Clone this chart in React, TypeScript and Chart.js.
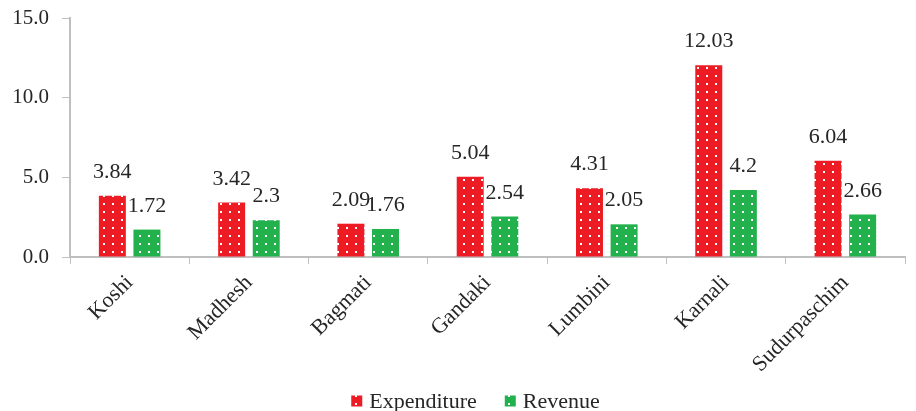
import React, { useEffect, useRef } from "react";
import { Chart, registerables } from "chart.js";

Chart.register(...registerables);

const categories = ["Koshi", "Madhesh", "Bagmati", "Gandaki", "Lumbini", "Karnali", "Sudurpaschim"];
const seriesNames = ["Expenditure", "Revenue"];
const expenditure = [3.84, 3.42, 2.09, 5.04, 4.31, 12.03, 6.04];
const revenue = [1.72, 2.3, 1.76, 2.54, 2.05, 4.2, 2.66];
const yTicks = [0, 5, 10, 15];

const FONT = "'Liberation Serif', 'Times New Roman', serif";
const TEXT = "#262626";

function makePattern(color: string): CanvasPattern | string {
  const c = document.createElement("canvas");
  c.width = 9;
  c.height = 8;
  const ctx = c.getContext("2d");
  if (!ctx) return color;
  ctx.fillStyle = color;
  ctx.fillRect(0, 0, 9, 8);
  ctx.fillStyle = "#ffffff";
  ctx.fillRect(4, 3, 2, 2);
  const p = ctx.createPattern(c, "repeat");
  return p || color;
}

const labelPlugin = {
  id: "valueLabels",
  afterDatasetsDraw(chart: any) {
    const ctx = chart.ctx;
    ctx.save();
    ctx.font = `22px ${FONT}`;
    ctx.fillStyle = TEXT;
    ctx.textAlign = "center";
    ctx.textBaseline = "alphabetic";
    chart.data.datasets.forEach((ds: any, i: number) => {
      const meta = chart.getDatasetMeta(i);
      meta.data.forEach((bar: any, j: number) => {
        ctx.fillText(String(ds.data[j]), bar.x, bar.y - 18);
      });
    });
    ctx.restore();
  },
};

const legendPlugin = {
  id: "customLegend",
  afterDraw(chart: any) {
    const ctx = chart.ctx;
    ctx.save();
    ctx.font = `22px ${FONT}`;
    ctx.textBaseline = "middle";
    ctx.textAlign = "left";
    const box = 11;
    const gap = 7;
    const itemGap = 28;
    const ds = chart.data.datasets;
    const widths = ds.map((d: any) => box + gap + ctx.measureText(d.label).width);
    const total = widths.reduce((a: number, b: number) => a + b, 0) + itemGap * (ds.length - 1);
    const ca = chart.chartArea;
    let x = (ca.left + ca.right) / 2 - 12 - total / 2;
    const y = chart.height - 10;
    ds.forEach((d: any, i: number) => {
      ctx.fillStyle = d.backgroundColor;
      ctx.fillRect(x, y - box / 2, box, box);
      ctx.fillStyle = TEXT;
      ctx.fillText(d.label, x + box + gap, y + 1);
      x += widths[i] + itemGap;
    });
    ctx.restore();
  },
};

export default function App() {
  const ref = useRef<HTMLCanvasElement>(null);
  useEffect(() => {
    document.body.style.margin = "0";
    const canvas = ref.current;
    if (!canvas) return;
    const red = makePattern("#ED1C24");
    const green = makePattern("#22B14C");
    const chart = new Chart(canvas, {
      type: "bar",
      data: {
        labels: categories,
        datasets: [
          { label: seriesNames[0], data: expenditure, backgroundColor: red as any, borderWidth: 0, categoryPercentage: 0.58, barPercentage: 0.78 },
          { label: seriesNames[1], data: revenue, backgroundColor: green as any, borderWidth: 0, categoryPercentage: 0.58, barPercentage: 0.78 },
        ],
      },
      options: {
        animation: false,
        responsive: false,
        maintainAspectRatio: false,
        layout: { padding: { left: 0, right: 11, top: 18, bottom: 31 } },
        plugins: {
          legend: { display: false },
          tooltip: { enabled: false },
        },
        scales: {
          x: {
            offset: true,
            grid: { display: true, drawOnChartArea: false, offset: true, drawTicks: true, tickLength: 7, color: "#BFBFBF" },
            border: { display: true, color: "#BFBFBF", width: 2 },
            ticks: {
              font: { family: FONT, size: 22 },
              color: TEXT,
              minRotation: 45,
              maxRotation: 45,
              padding: 6,
            },
            afterFit: (s: any) => {
              s.height = 123;
              s.paddingLeft = 0;
              s.paddingRight = 0;
            },
          },
          y: {
            min: 0,
            max: 15,
            afterBuildTicks: (s: any) => {
              s.ticks = yTicks.map((v) => ({ value: v }));
            },
            grid: { display: true, drawOnChartArea: false, drawTicks: true, tickLength: 8, color: "#BFBFBF" },
            border: { display: true, color: "#BFBFBF", width: 2 },
            ticks: {
              font: { family: FONT, size: 21 },
              color: TEXT,
              padding: 13,
              callback: (v: any) => Number(v).toFixed(1),
            },
            afterFit: (s: any) => {
              s.width = 70;
              s.paddingTop = 0;
              s.paddingBottom = 0;
            },
          },
        },
      },
      plugins: [labelPlugin, legendPlugin],
    });
    return () => chart.destroy();
  }, []);
  return (
    <div style={{ width: 916, height: 411 }}>
      <canvas ref={ref} width={916} height={411} style={{ display: "block" }} />
    </div>
  );
}
